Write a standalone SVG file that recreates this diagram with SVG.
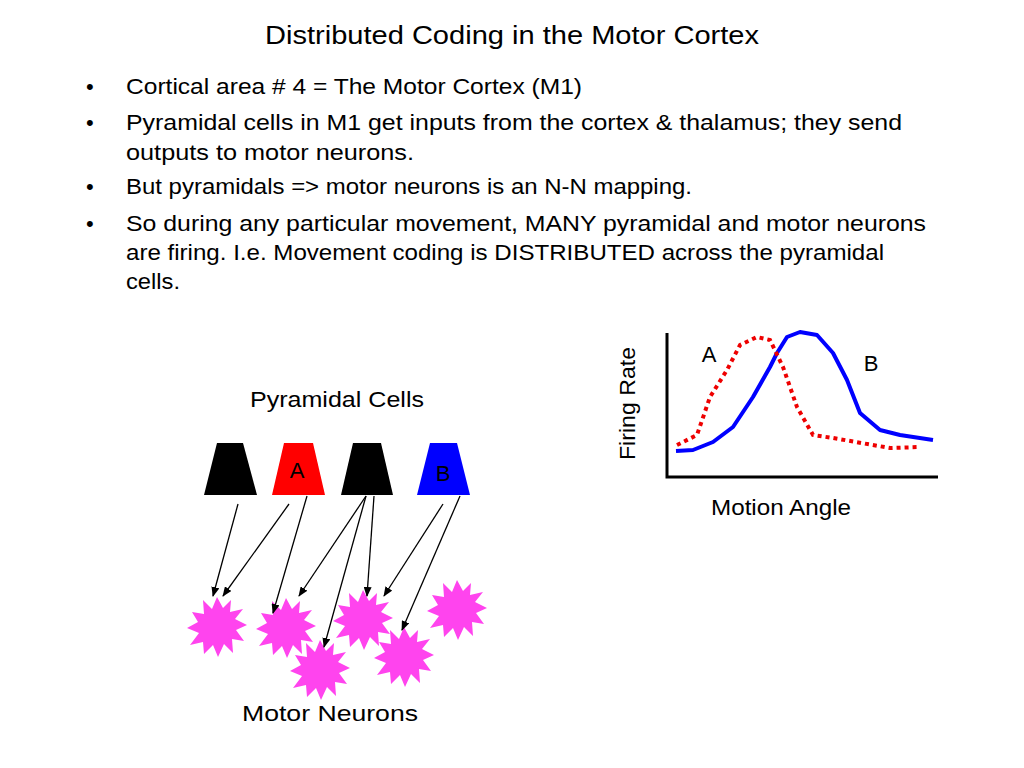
<svg xmlns="http://www.w3.org/2000/svg" width="1024" height="768" viewBox="0 0 1024 768">
<style>
text{font-family:"Liberation Sans",Arial,sans-serif;fill:#000}
.t{font-size:22px}
.c{stroke:#000;stroke-width:1.3;fill:none;marker-end:url(#ah)}
.star{fill:#ff44ee}
</style>
<defs>
<marker id="ah" markerWidth="10" markerHeight="8" refX="9" refY="4" orient="auto" markerUnits="userSpaceOnUse"><path d="M0,0L10,4L0,8z" fill="#000"/></marker>
<polygon id="st" class="star" points="0,-30 6,-19 14,-27 13,-15 26,-18 18,-8 30,-2 19,3 27,14 15,12 16,26 7,17 1,30 -4,18 -13,27 -14,15 -27,18 -18,6 -30,1 -19,-5 -25,-15 -13,-13 -14,-27 -5,-18"/>
</defs>
<rect width="1024" height="768" fill="#fff"/>
<text x="265" y="44" font-size="25" textLength="494" lengthAdjust="spacingAndGlyphs">Distributed Coding in the Motor Cortex</text>
<g class="t">
<text x="86" y="94">•</text><text x="126" y="94" textLength="456" lengthAdjust="spacingAndGlyphs">Cortical area # 4 = The Motor Cortex (M1)</text>
<text x="86" y="130">•</text><text x="126" y="130" textLength="776" lengthAdjust="spacingAndGlyphs">Pyramidal cells in M1 get inputs from the cortex &amp; thalamus; they send</text>
<text x="126" y="160" textLength="288" lengthAdjust="spacingAndGlyphs">outputs to motor neurons.</text>
<text x="86" y="194">•</text><text x="126" y="194" textLength="566" lengthAdjust="spacingAndGlyphs">But pyramidals =&gt; motor neurons is an N-N mapping.</text>
<text x="86" y="231">•</text><text x="126" y="231" textLength="800" lengthAdjust="spacingAndGlyphs">So during any particular movement, MANY pyramidal and motor neurons</text>
<text x="126" y="260" textLength="758" lengthAdjust="spacingAndGlyphs">are firing. I.e. Movement coding is DISTRIBUTED across the pyramidal</text>
<text x="126" y="289" textLength="54" lengthAdjust="spacingAndGlyphs">cells.</text>
</g>
<text x="250" y="407" class="t" textLength="174" lengthAdjust="spacingAndGlyphs">Pyramidal Cells</text>
<text x="242" y="721" class="t" textLength="176" lengthAdjust="spacingAndGlyphs">Motor Neurons</text>
<g id="p1"><polygon points="217,443 243,443 257,495 204,495" fill="#000"/></g>
<g id="pA"><polygon points="284,443 313,443 325,495 272,495" fill="#f00"/><text x="297" y="478" class="t" text-anchor="middle">A</text></g>
<g id="p3"><polygon points="353,443 381,443 393,495 341,495" fill="#000"/></g>
<g id="pB"><polygon points="430,443 457,443 470,495 417,495" fill="#00f"/><text x="443" y="481" class="t" text-anchor="middle">B</text></g>
<g id="m1"><use href="#st" x="217" y="627"/></g>
<g id="m2"><use href="#st" x="286" y="628"/></g>
<g id="m3"><use href="#st" x="320" y="670"/></g>
<g id="m4"><use href="#st" x="363" y="620"/></g>
<g id="m5"><use href="#st" x="404" y="657"/></g>
<g id="m6"><use href="#st" x="457" y="610"/></g>
<g id="connectors">
<path class="c" d="M238,504L213,596"/>
<path class="c" d="M289,504L223,596"/>
<path class="c" d="M307,496L273,613"/>
<path class="c" d="M366,496L299,596"/>
<path class="c" d="M366,496L324,647"/>
<path class="c" d="M374,496L367,596"/>
<path class="c" d="M443,504L384,596"/>
<path class="c" d="M460,496L402,630"/>
</g>
<g id="chart">
<path d="M667,333V477H938" fill="none" stroke="#000" stroke-width="3"/>
<polyline fill="none" stroke="#00f" stroke-width="4" stroke-linejoin="round" points="676,451 693,450 713,442 733,427 753,397 770,367 777,353 787,337 800,332 817,335 833,353 847,380 860,413 880,430 900,435 933,440"/>
<polyline fill="none" stroke="#e00" stroke-width="4" stroke-dasharray="4,4" points="677,445 697,435 710,397 727,370 740,345 757,337 770,340 783,367 797,407 813,435 833,438 890,448 920,447"/>
<text x="709" y="362" class="t" text-anchor="middle">A</text>
<text x="871" y="371" class="t" text-anchor="middle">B</text>
<text transform="translate(635,460) rotate(-90)" class="t" textLength="113" lengthAdjust="spacingAndGlyphs">Firing Rate</text>
<text x="711" y="515" class="t" textLength="140" lengthAdjust="spacingAndGlyphs">Motion Angle</text>
</g>
</svg>
